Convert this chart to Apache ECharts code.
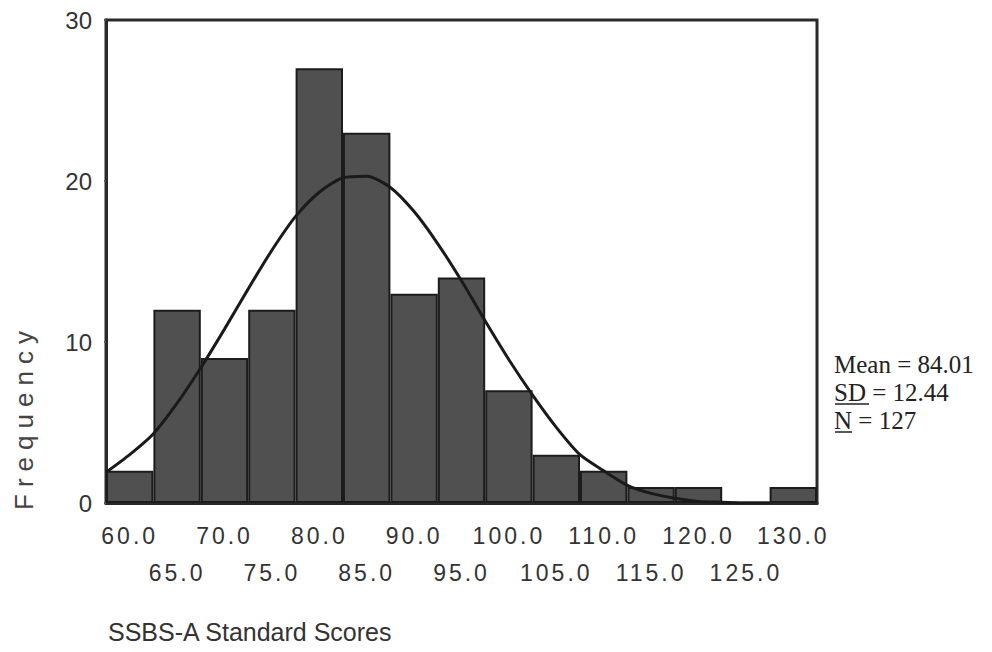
<!DOCTYPE html>
<html>
<head>
<meta charset="utf-8">
<script src="https://cdn.jsdelivr.net/npm/echarts@6/dist/echarts.min.js"></script>
<style>html,body{margin:0;padding:0;background:#fff}#c{width:992px;height:652px}</style>
</head>
<body>
<div id="c"></div>
<script>
// Histogram bins (centres) and frequencies
const binLabels = ['60.0','65.0','70.0','75.0','80.0','85.0','90.0','95.0','100.0','105.0','110.0','115.0','120.0','125.0','130.0'];
const frequencies = [2, 12, 9, 12, 27, 23, 13, 14, 7, 3, 2, 1, 1, 0, 1];
// Normal curve
const curveX = [57.5,60,62.5,65,67.5,70,72.5,75,77.5,80,82.5,85,87.5,90,92.5,95,97.5,100,102.5,105,107.5,110,112.5,115,117.5,120,122.5,125,127.5];
const curveY = [1.9,3.0,4.3,6.2,8.4,10.8,13.3,15.7,17.8,19.3,20.2,20.3,19.6,18.1,16.1,13.8,11.3,8.9,6.7,4.7,3.0,2.0,1.1,0.6,0.3,0.1,0.05,0,0];
const yTicks = [0, 10, 20, 30];
const statsLines = ['Mean = 84.01', 'SD = 12.44', 'N = 127'];

const chart = echarts.init(document.getElementById('c'), null, {renderer: 'svg'});
const ink = '#2a2a2a';
const grid = {left: 106, right: 175, top: 20, bottom: 149};
const serif = '25px "Liberation Serif", "Times New Roman", serif';
chart.setOption({
  animation: false,
  backgroundColor: '#fff',
  grid: Object.assign({show: true, borderColor: ink, borderWidth: 3, backgroundColor: 'transparent'}, grid),
  xAxis: [{
    type: 'category',
    data: binLabels,
    offset: 4,
    axisLine: {lineStyle: {color: ink, width: 3}},
    axisTick: {show: false},
    axisLabel: {
      interval: 0,
      margin: 10,
      fontSize: 23,
      lineHeight: 37,
      color: '#333',
      fontFamily: 'Liberation Sans, Arial, sans-serif',
      formatter: (v, i) => (i % 2 ? '\n' + v : v)
    },
    splitLine: {show: false}
  }, {
    type: 'value',
    min: 57.5,
    max: 132.5,
    show: false
  }],
  yAxis: {
    type: 'value',
    min: yTicks[0],
    max: yTicks[yTicks.length - 1],
    interval: 10,
    axisLine: {show: true, lineStyle: {color: ink, width: 3}},
    axisTick: {show: true, length: 4, lineStyle: {color: '#555', type: 'dotted', width: 2}},
    axisLabel: {fontSize: 24, color: '#333', margin: 14, fontFamily: 'Liberation Sans, Arial, sans-serif'},
    splitLine: {show: false}
  },
  series: [{
    type: 'bar',
    xAxisIndex: 0,
    data: frequencies,
    barCategoryGap: '0%',
    itemStyle: {color: '#505050', borderColor: '#1c1c1c', borderWidth: 2},
    z: 2
  }, {
    type: 'line',
    xAxisIndex: 1,
    data: curveX.map((x, i) => [x, curveY[i]]),
    smooth: 0.25,
    showSymbol: false,
    symbol: 'none',
    lineStyle: {color: '#1a1a1a', width: 3},
    z: 3
  }],
  graphic: [
    {type: 'text', x: 24, y: 417, rotation: Math.PI / 2,
     style: {text: 'Frequency', fill: '#444', font: '26px "Liberation Sans", Arial, sans-serif', textAlign: 'center', textVerticalAlign: 'middle'}},
    {type: 'text', x: 108, y: 632,
     style: {text: 'SSBS-A Standard Scores', fill: '#333', font: '25px "Liberation Sans", Arial, sans-serif', textAlign: 'left', textVerticalAlign: 'middle'}},
    {type: 'text', x: 834, y: 364,
     style: {text: statsLines[0], fill: '#222', font: serif, textAlign: 'left', textVerticalAlign: 'middle'}},
    {type: 'text', x: 834, y: 392,
     style: {text: statsLines[1], fill: '#222', font: serif, textAlign: 'left', textVerticalAlign: 'middle'}},
    {type: 'text', x: 834, y: 420,
     style: {text: statsLines[2], fill: '#222', font: serif, textAlign: 'left', textVerticalAlign: 'middle'}},
    {type: 'line', shape: {x1: 835, y1: 404, x2: 869, y2: 404}, style: {stroke: '#222', lineWidth: 1.5}},
    {type: 'line', shape: {x1: 835, y1: 432, x2: 852, y2: 432}, style: {stroke: '#222', lineWidth: 1.5}}
  ]
});

// widen letter spacing as in the reference typography
function spaceLetters() {
  document.querySelectorAll('#c svg text').forEach(t => {
    const s = (t.textContent || '').trim();
    if (s === 'Frequency') t.setAttribute('letter-spacing', '7px');
    else if (/^\d+\.0$/.test(s)) t.setAttribute('letter-spacing', '3px');
  });
}
spaceLetters();
chart.on('finished', spaceLetters);
</script>
</body>
</html>
